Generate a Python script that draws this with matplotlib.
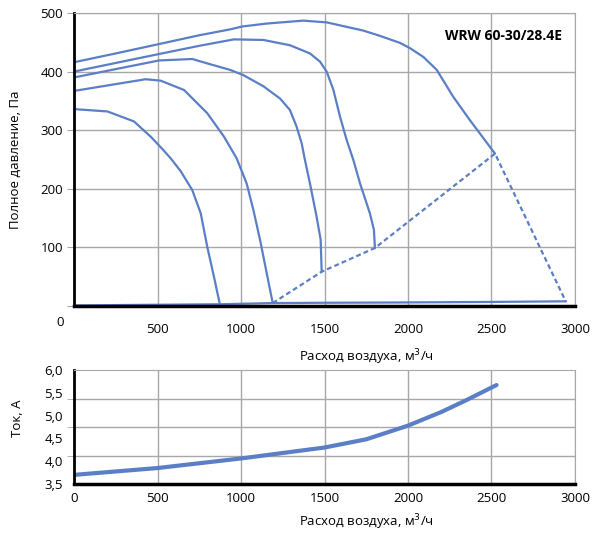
import matplotlib
matplotlib.use('Agg')
import matplotlib.pyplot as plt
import numpy as np

plt.rcParams['font.family'] = ['Open Sans', 'DejaVu Sans']
plt.rcParams['font.size'] = 9.5

# pressure curves (m3/h, Pa)
c1_x = [0, 250, 509, 750, 934, 1008, 1154, 1373, 1513, 1732, 1832, 1952, 2012, 2092, 2172, 2271, 2371, 2521]
c1_y = [416, 431, 447, 462, 472, 477, 482, 487, 484, 470, 461, 449, 440, 425, 403, 357, 317, 260]
c2_x = [0, 509, 750, 958, 1134, 1293, 1413, 1473, 1513, 1553, 1593, 1633, 1673, 1713, 1772, 1796, 1802]
c2_y = [400, 430, 444, 455, 454, 445, 431, 417, 400, 369, 323, 283, 249, 209, 158, 130, 99]
c3_x = [0, 509, 708, 798, 934, 1014, 1134, 1234, 1293, 1333, 1363, 1383, 1413, 1453, 1477, 1483]
c3_y = [390, 419, 421.5, 414, 403, 394, 375, 354, 334.5, 306, 278, 249, 209, 152, 113, 58.5]
c4_x = [0, 429, 519, 659, 798, 898, 974, 1034, 1074, 1114, 1154, 1190]
c4_y = [367, 387, 384.5, 368.6, 329, 289, 252, 209, 164, 113, 56, 5]
c5_x = [0, 200, 359, 459, 529, 579, 639, 708, 759, 798, 838, 874]
c5_y = [336, 332, 315, 289, 268, 252, 230, 198, 158, 101, 50, 2]
base_x = [0, 874, 1190, 1483, 1952, 2521, 2946]
base_y = [1, 3, 5, 5.5, 6, 7, 8]
dash_x = [1190, 1483, 1802, 2521, 2946]
dash_y = [5, 58.5, 99, 260, 7]

# current curve (m3/h, A)
cur_x = [0, 500, 1000, 1500, 1750, 2000, 2200, 2350, 2530]
cur_y = [3.70, 3.85, 4.06, 4.30, 4.48, 4.78, 5.08, 5.34, 5.67]

model = 'WRW 60-30/28.4E'
xlab = 'Расход воздуха, м$^3$/ч'

blue = '#5b7fc6'
grey = '#a8a8a8'

fig = plt.figure(figsize=(5.99, 5.35), dpi=100)
ax = fig.add_axes([74/599, 1-306/535, 501/599, 293/535])
ax2 = fig.add_axes([74/599, 1-484/535, 501/599, 114/535])

# --- top chart ---
for cx, cy in [(c1_x, c1_y), (c2_x, c2_y), (c3_x, c3_y), (c4_x, c4_y), (c5_x, c5_y), (base_x, base_y)]:
    ax.plot(cx, cy, color=blue, lw=1.6, solid_capstyle='round', solid_joinstyle='round')
ax.plot(dash_x, dash_y, color=blue, lw=1.6, ls=(0, (2.2, 1.4)))

ax.set_xlim(0, 3000)
ax.set_ylim(0, 500)
ax.set_xticks(np.arange(0, 3001, 500))
ax.set_xticklabels([''] + [str(v) for v in range(500, 3001, 500)])
ax.set_yticks(np.arange(0, 501, 100))
ax.set_yticklabels([''] + [str(v) for v in range(100, 501, 100)])
ax.grid(True, color=grey, lw=1)
ax.set_axisbelow(True)
ax.tick_params(axis='y', length=5, color=grey, pad=3)
ax.tick_params(axis='x', length=0, pad=12)
ax.text(-0.028, -0.055, '0', transform=ax.transAxes, ha='center', va='center')
for s in ['top', 'right']:
    ax.spines[s].set_color(grey)
ax.spines['left'].set_color('black')
ax.spines['left'].set_linewidth(2)
ax.spines['bottom'].set_color('black')
ax.spines['bottom'].set_linewidth(2.5)
ax.set_ylabel('Полное давление, Па')
ax.yaxis.set_label_coords(-0.105, 0.5)
ax.set_xlabel(xlab)
ax.xaxis.set_label_coords(0.583, -0.14)
ax.text(0.975, 0.92, model, transform=ax.transAxes, ha='right', va='center',
        fontweight='bold', fontsize=10)

# --- bottom chart ---
ax2.plot(cur_x, cur_y, color=blue, lw=3, solid_capstyle='round', solid_joinstyle='round')
ax2.set_xlim(0, 3000)
ax2.set_ylim(3.5, 6.0)
ax2.set_xticks(np.arange(0, 3001, 500))
ax2.set_yticks(np.arange(3.5, 6.01, 0.5))
ax2.set_yticklabels(['3,5', '4,0', '4,5', '5,0', '5,5', '6,0'])
ax2.set_yticks(np.linspace(3.5, 6.0, 5), minor=True)
ax2.grid(True, axis='x', color=grey, lw=1)
ax2.grid(True, axis='y', which='minor', color=grey, lw=1)
ax2.set_axisbelow(True)
ax2.tick_params(axis='y', which='major', length=0, pad=8)
ax2.tick_params(axis='y', which='minor', length=5, color=grey)
ax2.tick_params(axis='x', length=0, pad=6)
for s in ['top', 'right']:
    ax2.spines[s].set_color(grey)
ax2.spines['left'].set_color('black')
ax2.spines['left'].set_linewidth(2)
ax2.spines['bottom'].set_color('black')
ax2.spines['bottom'].set_linewidth(2.5)
ax2.set_ylabel('Ток, А')
ax2.yaxis.set_label_coords(-0.1, 0.58)
ax2.set_xlabel(xlab)
ax2.xaxis.set_label_coords(0.583, -0.25)

fig.savefig('out.png', dpi=100)
